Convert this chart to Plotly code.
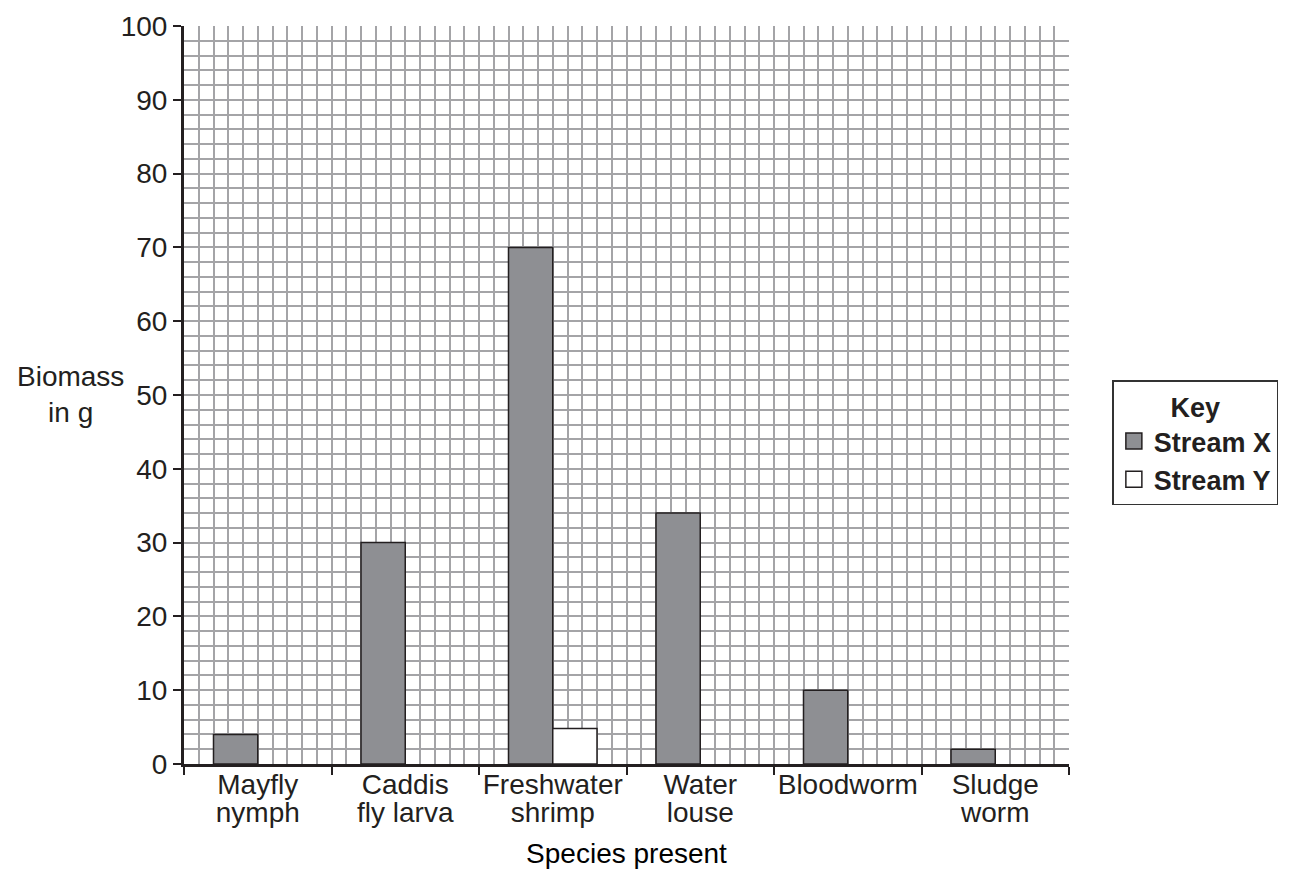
import plotly.graph_objects as go

categories = ["Mayfly<br>nymph", "Caddis<br>fly larva", "Freshwater<br>shrimp",
              "Water<br>louse", "Bloodworm", "Sludge<br>worm"]
stream_x = [4, 30, 70, 34, 10, 2]
stream_y = [0, 0, 4.8, 0, 0, 0]
y_ticks = [0, 10, 20, 30, 40, 50, 60, 70, 80, 90, 100]

CAT_W = 10
idx = list(range(len(categories)))
x_pos_x = [i * CAT_W + 3.5 for i in idx]
x_pos_y = [i * CAT_W + 6.5 for i in idx]
centers = [i * CAT_W + 5 for i in idx]
line1 = [c.split("<br>")[0] for c in categories]
line2 = [c.split("<br>")[1] if "<br>" in c else "" for c in categories]

FONT = "Liberation Sans, Arial, sans-serif"
TXT = "#231f20"
GRID = "#a4a4a7"
BAR_X = "#8e8f93"
FS = 28

fig = go.Figure()
fig.add_trace(go.Bar(x=x_pos_x, y=stream_x, width=3, name="Stream X", showlegend=False,
                     marker=dict(color=BAR_X, line=dict(color=TXT, width=1.5))))
fig.add_trace(go.Bar(x=[x_pos_y[i] for i in idx if stream_y[i] > 0],
                     y=[v for v in stream_y if v > 0], width=3, name="Stream Y", showlegend=False,
                     marker=dict(color="#ffffff", line=dict(color=TXT, width=1.5))))
# legend entries (larger square symbols)
fig.add_trace(go.Scatter(x=[None], y=[None], mode="markers", name="<b>Stream X</b>",
                         marker=dict(symbol="square", size=16, color=BAR_X,
                                     line=dict(color=TXT, width=1.5))))
fig.add_trace(go.Scatter(x=[None], y=[None], mode="markers", name="<b>Stream Y</b>",
                         marker=dict(symbol="square", size=16, color="#ffffff",
                                     line=dict(color=TXT, width=1.5))))
# invisible traces to carry category label lines on overlay axes
fig.add_trace(go.Scatter(x=centers, y=[0] * len(centers), xaxis="x2", mode="markers",
                         marker=dict(opacity=0), showlegend=False, hoverinfo="skip"))
fig.add_trace(go.Scatter(x=centers, y=[0] * len(centers), xaxis="x3", mode="markers",
                         marker=dict(opacity=0), showlegend=False, hoverinfo="skip"))

fig.update_layout(
    width=1293, height=870,
    margin=dict(l=176, r=232, t=18, b=114, autoexpand=False),
    paper_bgcolor="white", plot_bgcolor="white",
    font=dict(family=FONT, color=TXT, size=FS),
    barmode="overlay",
    xaxis=dict(range=[0, 60], tickmode="linear", tick0=0, dtick=10, showticklabels=False,
               ticks="outside", ticklen=8, tickwidth=2, tickcolor=TXT, automargin=False,
               showline=True, linecolor=TXT, linewidth=3,
               showgrid=True, gridcolor=GRID, gridwidth=1.5, zeroline=False,
               minor=dict(tickmode="linear", tick0=0, dtick=1, showgrid=True,
                          gridcolor=GRID, gridwidth=1.5)),
    xaxis2=dict(range=[0, 60], overlaying="x", side="bottom", anchor="y", automargin=False,
                tickvals=centers, ticktext=line1, ticks="", showgrid=False,
                showline=False, zeroline=False, tickangle=0, ticklabelstandoff=1,
                tickfont=dict(size=FS, color=TXT)),
    xaxis3=dict(range=[0, 60], overlaying="x", side="bottom", anchor="y", automargin=False,
                tickvals=centers, ticktext=line2, ticks="", showgrid=False,
                showline=False, zeroline=False, tickangle=0, ticklabelstandoff=29,
                tickfont=dict(size=FS, color=TXT),
                title=dict(text="Species present", font=dict(size=FS, color="#000000"), standoff=16)),
    yaxis=dict(range=[0, 100], tickmode="array", tickvals=y_ticks, automargin=False,
               ticks="outside", ticklen=8, tickwidth=2, ticklabeloverflow="allow",
               tickcolor=TXT, showline=True, linecolor=TXT, linewidth=3,
               showgrid=True, gridcolor=GRID, gridwidth=1.5, zeroline=False,
               tickfont=dict(size=FS, color=TXT),
               minor=dict(tickmode="linear", tick0=0, dtick=2, showgrid=True,
                          gridcolor=GRID, gridwidth=1.5)),
    legend=dict(x=1.049, y=0.435, xanchor="left", yanchor="middle",
                title=dict(text="<b>Key</b>", side="top center", font=dict(size=FS - 1, color=TXT)),
                font=dict(size=FS - 1, color=TXT, family=FONT),
                bordercolor="#333333", borderwidth=1.5, bgcolor="white",
                itemsizing="trace", itemwidth=30),
    annotations=[dict(text="Biomass<br>in g", x=-0.128, y=0.501, xref="paper", yref="paper",
                      xanchor="center", yanchor="middle", showarrow=False,
                      font=dict(size=FS, color=TXT))],
    showlegend=True,
)
fig.write_html("out.html")
